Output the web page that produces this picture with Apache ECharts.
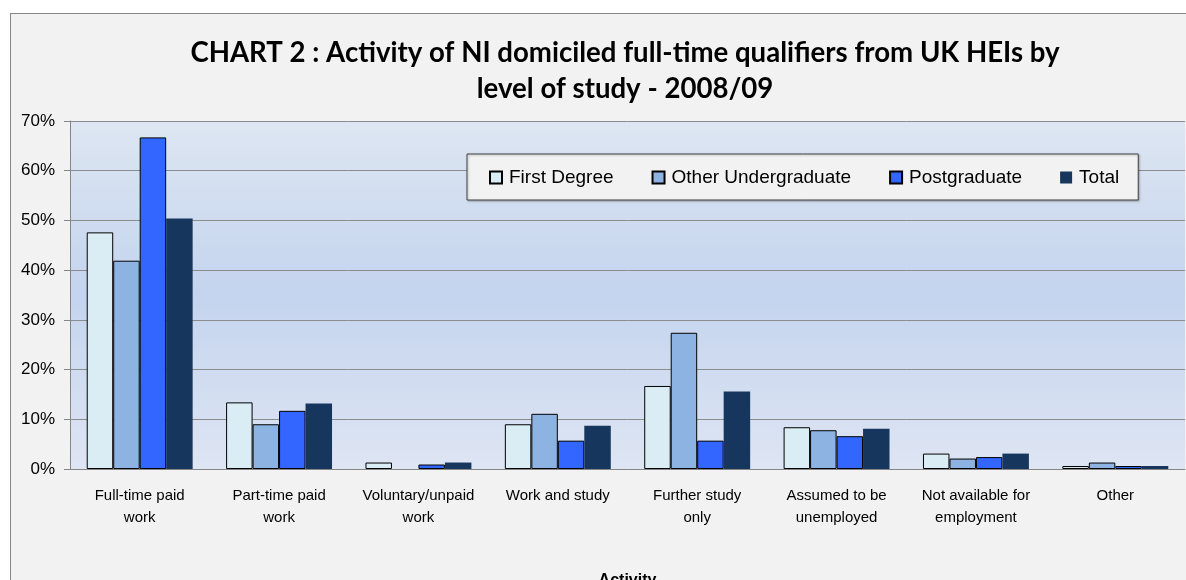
<!DOCTYPE html>
<html>
<head>
<meta charset="utf-8">
<script src="https://cdn.jsdelivr.net/npm/echarts@6/dist/echarts.min.js"></script>
<style>
  html, body { margin: 0; padding: 0; background: #fff; }
  .frame {
    position: absolute; left: 10px; top: 13px;
    width: 1200px; height: 600px;
    border: 1px solid #878787; background: #f2f2f2;
  }
  #chart { position: absolute; left: 0; top: 0; width: 1186px; height: 580px; }
</style>
</head>
<body>
<div class="frame"></div>
<div id="chart"></div>
<script>
// categories (activity)
var categories = ['Full-time paid\nwork', 'Part-time paid\nwork', 'Voluntary/unpaid\nwork', 'Work and study',
                  'Further study\nonly', 'Assumed to be\nunemployed', 'Not available for\nemployment', 'Other'];
// % of qualifiers (null = no bar drawn)
var firstDegree    = [47.6, 13.4, 1.3, 9.0, 16.7, 8.4, 3.1, 0.6];
var otherUndergrad = [41.9, 9.0, null, 11.1, 27.4, 7.8, 2.1, 1.3];
var postgraduate   = [66.7, 11.7, 0.9, 5.7, 5.7, 6.6, 2.4, 0.6];
var total          = [50.4, 13.2, 1.3, 8.7, 15.6, 8.1, 3.1, 0.6];
var yTicks = [0, 10, 20, 30, 40, 50, 60, 70];

var myChart = echarts.init(document.getElementById('chart'));

function barSeries(name, data, color, border) {
  return {
    name: name,
    type: 'bar',
    data: data,
    barGap: '0%',
    barCategoryGap: '24%',
    itemStyle: {
      color: color,
      borderColor: border ? '#000' : color,
      borderWidth: border ? 1 : 0
    }
  };
}

var option = {
  backgroundColor: 'transparent',
  animation: false,
  title: {
    text: 'CHART 2 : Activity of NI domiciled full-time qualifiers from UK HEIs by\nlevel of study - 2008/09',
    left: 620,
    top: 30,
    textAlign: 'center',
    textStyle: {
      fontFamily: 'Lato',
      fontWeight: 'bold',
      fontSize: 27.6,
      lineHeight: 36,
      color: '#000'
    }
  },
  legend: {
    left: 467,
    top: 154,
    padding: [14, 19, 13, 22],
    itemGap: 38,
    itemWidth: 12,
    itemHeight: 12,
    icon: 'rect',
    backgroundColor: '#f2f2f2',
    borderColor: '#404040',
    borderWidth: 1,
    shadowColor: 'rgba(0,0,0,0.25)',
    shadowOffsetX: 1,
    shadowOffsetY: 1,
    shadowBlur: 2,
    textStyle: {
      fontFamily: 'Liberation Sans',
      fontSize: 19,
      color: '#000',
      padding: [0, 0, 0, 2]
    },
    data: ['First Degree', 'Other Undergraduate', 'Postgraduate', 'Total']
  },
  grid: {
    left: 70,
    right: 1,
    top: 121,
    bottom: 111,
    outerBoundsMode: 'none',
    containLabel: false,
    show: true,
    borderWidth: 0,
    backgroundColor: {
      type: 'linear', x: 0, y: 0, x2: 0, y2: 1,
      colorStops: [
        { offset: 0, color: '#dde6f2' },
        { offset: 0.5, color: '#c4d4ee' },
        { offset: 1, color: '#dee5f3' }
      ]
    }
  },
  xAxis: {
    type: 'category',
    data: categories,
    name: 'Activity',
    nameLocation: 'middle',
    nameGap: 104,
    nameTextStyle: {
      fontFamily: 'Liberation Sans',
      fontWeight: 'bold',
      fontSize: 16,
      color: '#000'
    },
    axisLine: { lineStyle: { color: '#868686', width: 1 } },
    axisTick: { show: false },
    axisLabel: {
      interval: 0,
      margin: 16,
      fontFamily: 'Liberation Sans',
      fontSize: 15,
      lineHeight: 22,
      color: '#000'
    }
  },
  yAxis: {
    type: 'value',
    min: yTicks[0],
    max: yTicks[yTicks.length - 1],
    interval: 10,
    axisLine: { show: true, lineStyle: { color: '#868686', width: 1 } },
    axisTick: { show: true, length: 6, lineStyle: { color: '#868686' } },
    axisLabel: {
      margin: 15,
      fontFamily: 'Liberation Sans',
      fontSize: 17,
      color: '#000',
      formatter: '{value}%'
    },
    splitLine: { show: true, lineStyle: { color: '#8c8c8c', width: 1 } }
  },
  series: [
    barSeries('First Degree', firstDegree, '#daedf4', true),
    barSeries('Other Undergraduate', otherUndergrad, '#8db3e2', true),
    barSeries('Postgraduate', postgraduate, '#3366ff', true),
    barSeries('Total', total, '#17365d', false)
  ]
};

myChart.setOption(option);
</script>
</body>
</html>
